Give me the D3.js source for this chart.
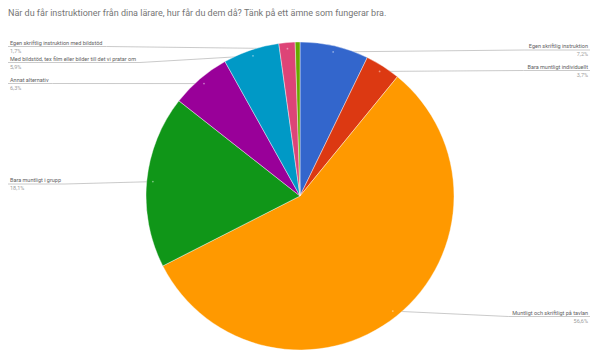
<!DOCTYPE html>
<html><head><meta charset="utf-8">
<script src="https://cdn.jsdelivr.net/npm/d3@7"></script>
<style>html,body{margin:0;padding:0;background:#fff;}svg{display:block;}</style>
</head><body>
<svg id="c" width="591" height="354"></svg>
<script>
const title = "När du får instruktioner från dina lärare, hur får du dem då? Tänk på ett ämne som fungerar bra.";
const categories = [
  "Egen skriftlig instruktion",
  "Bara muntligt individuellt",
  "Muntligt och skriftligt på tavlan",
  "Bara muntligt i grupp",
  "Annat alternativ",
  "Med bildstöd, tex film eller bilder till det vi pratar om",
  "Egen skriftlig instruktion med bildstöd",
  "Övrigt"
];
const values = [7.2, 3.7, 56.6, 18.1, 6.3, 5.9, 1.7, 0.5];
const colors = ["#3366cc","#dc3912","#ff9900","#109618","#990099","#0099c6","#dd4477","#66aa00"];

// layout: label line y (null = no label)
const labelLineY = [50, 70.5, 316.5, 184, 83.5, 62.5, 46.5, null];

const svg = d3.select("#c");
const cx = 300, cy = 196, R = 154;
const font = "Roboto, Arial, sans-serif";

svg.append("text").attr("x", 8).attr("y", 16)
  .attr("font-family", font).attr("font-size", 9).attr("fill", "#757575")
  .text(title);

const pie = d3.pie().sort(null).value(d => d)(values);
const arc = d3.arc().innerRadius(0).outerRadius(R);
const dotArc = d3.arc().innerRadius(R * 0.96).outerRadius(R * 0.96);

const gLines = svg.append("g");
const gPie = svg.append("g").attr("transform", `translate(${cx},${cy})`);
const gLabels = svg.append("g");

gPie.selectAll("path").data(pie).join("path")
  .attr("d", arc).attr("fill", (d, i) => colors[i])
  .attr("stroke", "#fff").attr("stroke-width", 0.4);

const fmt = v => d3.format(".1f")(v).replace(".", ",") + "%";
const total = d3.sum(values);

pie.forEach((d, i) => {
  const ly = labelLineY[i];
  if (ly == null) return;
  const [dx, dy] = dotArc.centroid(d);
  const px = cx + dx, py = cy + dy;
  const mid = (d.startAngle + d.endAngle) / 2;
  const right = mid < Math.PI;
  const pct = fmt(values[i] / total * 100);
  const tName = gLabels.append("text")
    .attr("x", right ? 588 : 10).attr("y", ly - 1.6)
    .attr("text-anchor", right ? "end" : "start")
    .attr("font-family", font).attr("font-size", 5.5).attr("fill", "#616161")
    .text(categories[i]);
  gLabels.append("text")
    .attr("x", right ? 588 : 10).attr("y", ly + 6.3)
    .attr("text-anchor", right ? "end" : "start")
    .attr("font-family", font).attr("font-size", 5.5).attr("fill", "#9e9e9e")
    .text(pct);
  const tw = tName.node().getComputedTextLength();
  let pts;
  if (right) {
    const bend = Math.max(588 - tw - 4, px);
    pts = [[590, ly], [bend, ly], [px, py]];
  } else {
    const bend = Math.min(10 + tw + 4, px);
    pts = [[8, ly], [bend, ly], [px, py]];
  }
  gLines.append("path").attr("d", d3.line()(pts))
    .attr("fill", "none").attr("stroke", "#bdbdbd").attr("stroke-width", 0.8);
  svg.append("circle").attr("cx", px).attr("cy", py).attr("r", 0.9)
    .attr("fill", "#ffffff").attr("opacity", 0.45);
});
</script>
</body></html>
